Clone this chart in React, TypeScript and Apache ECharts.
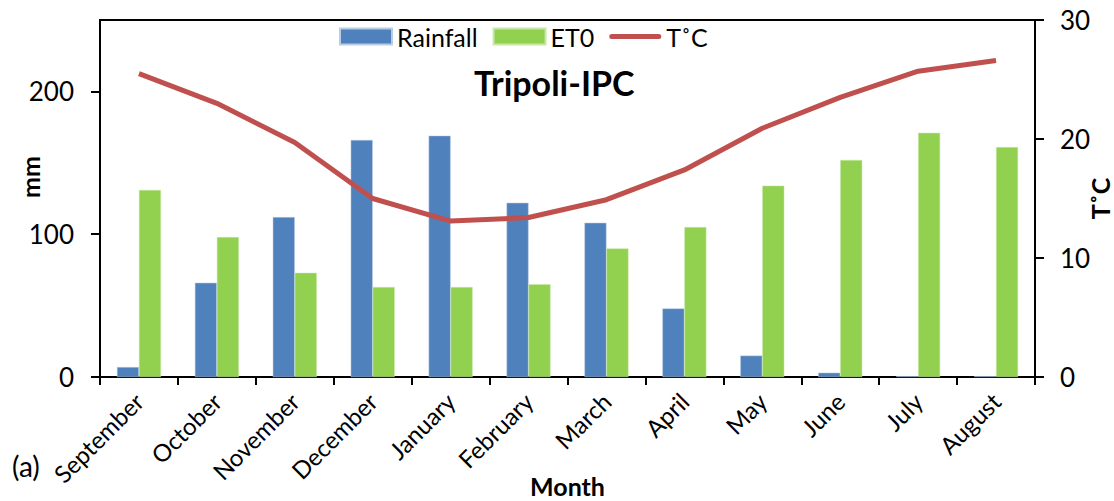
import React, { useEffect, useRef } from "react";
import * as echarts from "echarts";

const months = ["September", "October", "November", "December", "January", "February", "March", "April", "May", "June", "July", "August"];
const rainfall = [7, 66, 112, 166, 169, 122, 108, 48, 15, 3, 0.6, 0.6];
const et0 = [131, 98, 73, 63, 63, 65, 90, 105, 134, 152, 171, 161];
const temperature = [25.5, 23.0, 19.7, 15.0, 13.1, 13.4, 14.9, 17.4, 20.9, 23.5, 25.7, 26.6];
const mmTicks = [0, 100, 200];

const FONT = "Lato";

export default function App() {
  const ref = useRef<HTMLDivElement>(null);
  useEffect(() => {
    if (!ref.current) return;
    const chart = echarts.init(ref.current, undefined, { renderer: "svg" });
    chart.setOption({
      animation: false,
      textStyle: { fontFamily: FONT, color: "#000" },
      grid: {
        left: 100,
        right: 79,
        top: 20,
        bottom: 124,
        show: true,
        borderColor: "#000",
        borderWidth: 2,
        containLabel: false,
        outerBoundsMode: "none",
      },
      legend: {
        left: 339,
        top: 24,
        padding: 0,
        itemWidth: 52,
        itemHeight: 16,
        itemGap: 15,
        textStyle: { fontFamily: FONT, fontSize: 25, color: "#000" },
        data: [
          { name: "Rainfall", icon: "rect" },
          { name: "ET0", icon: "rect" },
          { name: "T˚C", icon: "path://M2.5,0H49.5A2.5,2.5,0,0,1,49.5,5H2.5A2.5,2.5,0,0,1,2.5,0Z" },
        ],
      },
      graphic: [
        {
          type: "text",
          left: 474,
          top: 65,
          style: { text: "Tripoli-IPC", font: `bold 34px ${FONT}`, fill: "#000" },
        },
        {
          type: "text",
          left: 12,
          top: 452,
          style: { text: "(a)", font: `28px ${FONT}`, fill: "#000" },
        },
        {
          type: "text",
          x: 30,
          y: 177,
          rotation: Math.PI / 2,
          style: { text: "mm", font: `bold 25px ${FONT}`, fill: "#000", align: "center", verticalAlign: "middle" },
        },
      ],
      xAxis: {
        type: "category",
        data: months,
        name: "Month",
        nameLocation: "middle",
        nameGap: 96,
        nameMoveOverlap: false,
        nameTextStyle: { fontFamily: FONT, fontSize: 25, fontWeight: "bold", color: "#000" },
        axisLine: { lineStyle: { color: "#000", width: 2 } },
        axisTick: { show: true, length: 8, lineStyle: { color: "#000", width: 2 } },
        axisLabel: { rotate: 45, fontSize: 24, color: "#000", fontFamily: FONT, margin: 20, interval: 0 },
        splitLine: { show: false },
      },
      yAxis: [
        {
          type: "value",
          min: 0,
          max: 250,
          interval: 50,
          axisLine: { show: true, lineStyle: { color: "#000", width: 2 } },
          axisTick: { show: true, length: 9, lineStyle: { color: "#000", width: 2 }, customValues: mmTicks },
          axisLabel: { fontSize: 26, color: "#000", fontFamily: FONT, margin: 26, customValues: mmTicks },
          splitLine: { show: false },
        },
        {
          type: "value",
          min: 0,
          max: 30,
          interval: 10,
          position: "right",
          name: "T˚C",
          nameLocation: "middle",
          nameRotate: 90,
          nameGap: 52,
          nameMoveOverlap: false,
          nameTextStyle: { fontFamily: FONT, fontSize: 25, fontWeight: "bold", color: "#000" },
          axisLine: { show: true, lineStyle: { color: "#000", width: 2 } },
          axisTick: { show: true, length: 9, lineStyle: { color: "#000", width: 2 } },
          axisLabel: { fontSize: 26, color: "#000", fontFamily: FONT, margin: 25 },
          splitLine: { show: false },
        },
      ],
      series: [
        {
          name: "Rainfall",
          type: "bar",
          data: rainfall,
          barWidth: 22,
          barGap: "0%",
          itemStyle: { color: "#4F81BD", borderColor: "#B9CDE5", borderWidth: 0.5 },
        },
        {
          name: "ET0",
          type: "bar",
          data: et0,
          barWidth: 22,
          barGap: "0%",
          itemStyle: { color: "#92D050", borderColor: "#C9E8A8", borderWidth: 0.5 },
        },
        {
          name: "T˚C",
          type: "line",
          yAxisIndex: 1,
          data: temperature,
          symbol: "none",
          lineStyle: { color: "#C0504D", width: 5 },
          itemStyle: { color: "#C0504D" },
          z: 5,
        },
      ],
    });
    return () => chart.dispose();
  }, []);
  return <div ref={ref} style={{ position: "fixed", left: 0, top: 0, width: 1114, height: 501, background: "#fff" }} />;
}
